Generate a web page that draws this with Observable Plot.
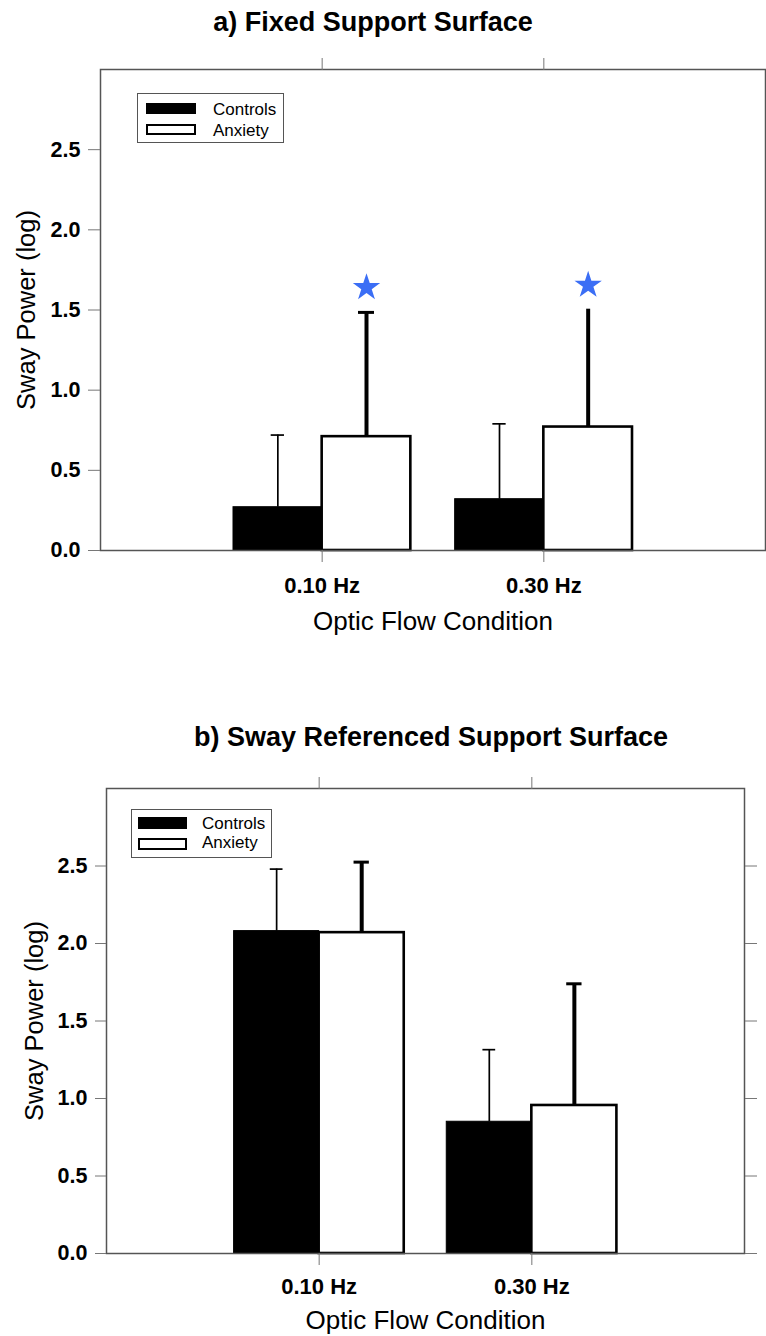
<!DOCTYPE html>
<html>
<head>
<meta charset="utf-8">
<script src="https://cdn.jsdelivr.net/npm/d3@7"></script>
<script src="https://cdn.jsdelivr.net/npm/@observablehq/plot@0.6"></script>
<style>
html, body { margin: 0; padding: 0; background: #fff; }
#page { position: relative; width: 766px; height: 1336px; overflow: hidden;
  font-family: "Liberation Sans", Arial, Helvetica, sans-serif; color: #000; background: #fff; }
.title { position: absolute; font-weight: bold; font-size: 27px; line-height: 27px;
  white-space: nowrap; transform: translateX(-50%); }
.panel { position: absolute; left: 0; }
.legend { position: absolute; border: 1.5px solid #555; box-sizing: border-box; background: #fff; }
.sw { position: absolute; box-sizing: border-box; }
.lt { position: absolute; font-size: 17px; line-height: 17px; white-space: nowrap; }
</style>
</head>
<body>
<div id="page"></div>
<script>
// ---------- data ----------
const conditions = ["0.10 Hz", "0.30 Hz"];
const groups = ["Controls", "Anxiety"];
const yTickValues = [0, 0.5, 1.0, 1.5, 2.0, 2.5];

// a) Fixed Support Surface
const fixedControlsMean = [0.27, 0.32];
const fixedControlsSD   = [0.45, 0.47];
const fixedAnxietyMean  = [0.71, 0.77];
const fixedAnxietySD    = [0.775, 0.735];
const fixedStarY        = [1.64, 1.655];   // significance markers (Anxiety bars)

// b) Sway Referenced Support Surface
const swayControlsMean = [2.08, 0.85];
const swayControlsSD   = [0.40, 0.465];
const swayAnxietyMean  = [2.07, 0.955];
const swayAnxietySD    = [0.455, 0.785];
const swayStarY        = [];

// ---------- layout ----------
const panels = [
  {
    title: "a) Fixed Support Surface", titleX: 373, titleTop: 9,
    top: 40, height: 610, marginLeft: 100, marginRight: 1, marginTop: 29, marginBottom: 100,
    means: [fixedControlsMean, fixedAnxietyMean], sds: [fixedControlsSD, fixedAnxietySD],
    stars: fixedStarY, anxCaps: [true, false], rightAxis: false,
    yTickSize: 12, xPad: 15, yLabelDx: -74, xLabelDy: 71,
    legend: {left: 137, top: 93, w: 147, h: 50, swX: 8, swW: 50, swH: 11, swY: [9, 30], txX: 75, txBase: [21, 42]}
  },
  {
    title: "b) Sway Referenced Support Surface", titleX: 431, titleTop: 724,
    top: 760, height: 576, marginLeft: 106, marginRight: 22, marginTop: 28, marginBottom: 83,
    means: [swayControlsMean, swayAnxietyMean], sds: [swayControlsSD, swayAnxietySD],
    stars: swayStarY, anxCaps: [true, true], rightAxis: true,
    yTickSize: 11, xPad: 13, yLabelDx: -72, xLabelDy: 67,
    legend: {left: 131, top: 809, w: 141, h: 49, swX: 6, swW: 49, swH: 12, swY: [7, 28], txX: 70, txBase: [19, 38]}
  }
];

const page = document.getElementById("page");
const barW = 0.4;

panels.forEach(p => {
  // title
  const t = document.createElement("div");
  t.className = "title";
  t.style.left = p.titleX + "px";
  t.style.top = p.titleTop + "px";
  t.textContent = p.title;
  page.appendChild(t);

  // rows
  const rows = [];
  conditions.forEach((c, i) => {
    groups.forEach((g, gi) => {
      const x1 = (i + 1) - barW + barW * gi;
      rows.push({cond: c, group: g, gi, i, x1, x2: x1 + barW, cx: x1 + barW / 2,
        mean: p.means[gi][i], top: p.means[gi][i] + p.sds[gi][i]});
    });
  });
  const ctl = rows.filter(d => d.gi === 0);
  const anx = rows.filter(d => d.gi === 1);
  const anxCap = anx.filter(d => p.anxCaps[d.i]);
  const stars = p.stars.map((y, i) => ({x: (i + 1) + barW / 2, y}));

  const marks = [
    Plot.rectY(ctl, {x1: "x1", x2: "x2", y1: 0, y2: "mean", fill: "black", stroke: "black", strokeWidth: 1}),
    Plot.rectY(anx, {x1: "x1", x2: "x2", y1: 0, y2: "mean", fill: "white", stroke: "black", strokeWidth: 2.6}),
    Plot.ruleX(ctl, {x: "cx", y1: "mean", y2: "top", stroke: "black", strokeWidth: 1.7}),
    Plot.ruleY(ctl, {y: "top", x1: d => d.cx - 0.03, x2: d => d.cx + 0.03, stroke: "black", strokeWidth: 1.7}),
    Plot.ruleX(anx, {x: "cx", y1: "mean", y2: "top", stroke: "black", strokeWidth: 4, strokeLinecap: "butt"}),
    Plot.ruleY(anxCap, {y: "top", x1: d => d.cx - 0.036, x2: d => d.cx + 0.036, stroke: "black", strokeWidth: 3}),
    Plot.dot(stars, {x: "x", y: "y", symbol: "star", r: 8.6, fill: "#3b6ef5", stroke: null}),
    Plot.frame({stroke: "#555", strokeWidth: 1.5}),
    Plot.axisY({ticks: yTickValues, tickFormat: d3.format(".1f"), tickSize: p.yTickSize, tickPadding: 8,
      stroke: "#777", fontSize: 21.5, fontWeight: "bold", label: null}),
    Plot.axisX({ticks: [1, 2], tickFormat: v => conditions[v - 1], tickSize: 12, tickPadding: p.xPad,
      stroke: "#777", fontSize: 22, fontWeight: "bold", label: null}),
    Plot.axisX({anchor: "top", ticks: [1, 2], tickFormat: () => "", tickSize: 12, stroke: "#777", label: null}),
    Plot.text(["Sway Power (log)"], {text: d => d, frameAnchor: "left", textAnchor: "middle", rotate: -90,
      dx: p.yLabelDx, fontSize: 25.5, lineAnchor: "middle"}),
    Plot.text(["Optic Flow Condition"], {text: d => d, frameAnchor: "bottom", textAnchor: "middle", dy: p.xLabelDy,
      fontSize: 26, lineAnchor: "middle"})
  ];
  if (p.rightAxis) {
    marks.push(Plot.axisY({anchor: "right", ticks: yTickValues, tickFormat: () => "", tickSize: 12,
      stroke: "#777", label: null}));
  }

  const chart = Plot.plot({
    width: 766, height: p.height,
    marginLeft: p.marginLeft, marginRight: p.marginRight, marginTop: p.marginTop, marginBottom: p.marginBottom,
    x: {domain: [0, 3]},
    y: {domain: [0, 3]},
    style: {fontFamily: "'Liberation Sans', Arial, Helvetica, sans-serif", background: "white", overflow: "visible", color: "black"},
    marks
  });
  const holder = document.createElement("div");
  holder.className = "panel";
  holder.style.top = p.top + "px";
  holder.appendChild(chart);
  page.appendChild(holder);

  // legend
  const L = p.legend;
  const box = document.createElement("div");
  box.className = "legend";
  Object.assign(box.style, {left: L.left + "px", top: L.top + "px", width: L.w + "px", height: L.h + "px"});
  groups.forEach((g, gi) => {
    const sw = document.createElement("div");
    sw.className = "sw";
    Object.assign(sw.style, {left: L.swX + "px", top: L.swY[gi] + "px", width: L.swW + "px", height: L.swH + "px",
      background: gi === 0 ? "black" : "white", border: gi === 0 ? "none" : "2.5px solid black"});
    box.appendChild(sw);
    const tx = document.createElement("div");
    tx.className = "lt";
    tx.style.left = L.txX + "px";
    tx.style.top = (L.txBase[gi] - 14.4) + "px";
    tx.textContent = g;
    box.appendChild(tx);
  });
  page.appendChild(box);
});
</script>
</body>
</html>
